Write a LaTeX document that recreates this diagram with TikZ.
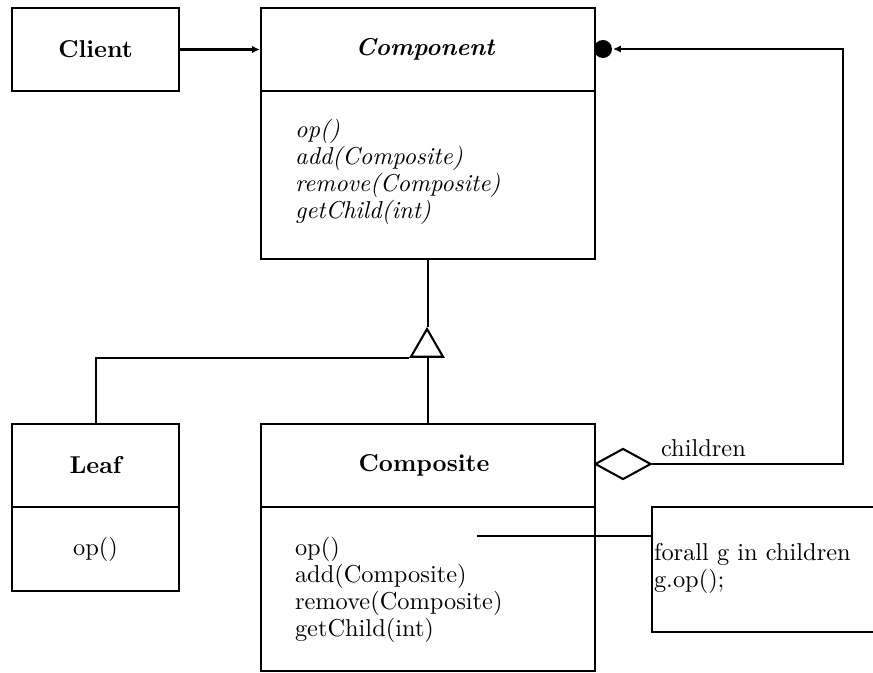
\documentclass[tikz,border=0pt]{standalone}
\usetikzlibrary{arrows.meta,shapes.geometric,calc}
\def\pxu{0.41pt}
\begin{document}
\begin{tikzpicture}[x=0.41pt,y=-0.41pt,line width=0.85pt,
  box/.style={draw,line width=0.85pt,inner sep=0pt,anchor=north west},
  title/.style={font=\bfseries},
  atitle/.style={font=\bfseries\itshape},
  methods/.style={align=left,anchor=west,inner sep=0pt,font=\fontsize{10}{11.1}\selectfont},
  smallarrow/.style={-{Latex[length=3.2pt,width=3pt]}}]
\useasboundingbox (0,0) rectangle (873,673);
\clip (0,0) rectangle (873,673);
% Client
\node[box,minimum width=167*\pxu,minimum height=83*\pxu] (client) at (11,7) {};
\node[title] (clientlbl) at (client.center) {Client};
% Component
\node[box,minimum width=334*\pxu,minimum height=83*\pxu] (comphead) at (260,7) {};
\node[box,minimum width=334*\pxu,minimum height=168*\pxu] (compbody) at (260,90) {};
\node[atitle] (complbl) at ([xshift=-3*\pxu]comphead.center) {Component};
\node[methods,font=\fontsize{10}{11.1}\selectfont\itshape] (compmeth) at (294,172)
  {op()\\add(Composite)\\remove(Composite)\\getChild(int)};
% Leaf
\node[box,minimum width=167*\pxu,minimum height=83*\pxu] (leafhead) at (11,423) {};
\node[box,minimum width=167*\pxu,minimum height=84*\pxu] (leafbody) at (11,506) {};
\node[title] (leaflbl) at (leafhead.center) {Leaf};
\node (leafmeth) at (leafbody.center) {op()};
% Composite
\node[box,minimum width=334*\pxu,minimum height=83*\pxu] (cmphead) at (260,423) {};
\node[box,minimum width=334*\pxu,minimum height=164*\pxu] (cmpbody) at (260,506) {};
\node[title] (cmplbl) at ([xshift=-4*\pxu]cmphead.center) {Composite};
\node[methods] (cmpmeth) at (294,590)
  {op()\\add(Composite)\\remove(Composite)\\getChild(int)};
% Note
\node[box,minimum width=260*\pxu,minimum height=125*\pxu] (note) at (651,506) {};
\node[methods] (notetext) at (653,568) {forall g in children\\g.op();};
\coordinate (notestart) at (477,536);
\draw (notestart) -- (note.west |- notestart);
% Client -> Component
\draw[smallarrow] (client.east) -- (comphead.west);
% Inheritance
\node[draw,regular polygon,regular polygon sides=3,minimum size=37*\pxu,inner sep=0pt,fill=white] (tri) at (427,347.5) {};
\draw (compbody.south) -- (compbody.south |- tri.corner 1);
\draw (leafhead.north) |- (tri.corner 2);
\draw (cmphead.north) -- (cmphead.north |- tri.corner 2);
% Aggregation
\node[draw,diamond,minimum width=56*\pxu,minimum height=31*\pxu,inner sep=0pt,anchor=west] (dia) at (594,464) {};
\node[circle,fill,inner sep=0pt,minimum size=18*\pxu] (dot) at (603,49) {};
\coordinate (c1) at (843,464);
\coordinate (c2) at (843,49);
\draw[smallarrow] (dia.east) -- (c1) -- (c2) -- (dot.east);
\node[anchor=south west,inner sep=0pt] (childlbl) at (660,458) {children};
\end{tikzpicture}
\end{document}
